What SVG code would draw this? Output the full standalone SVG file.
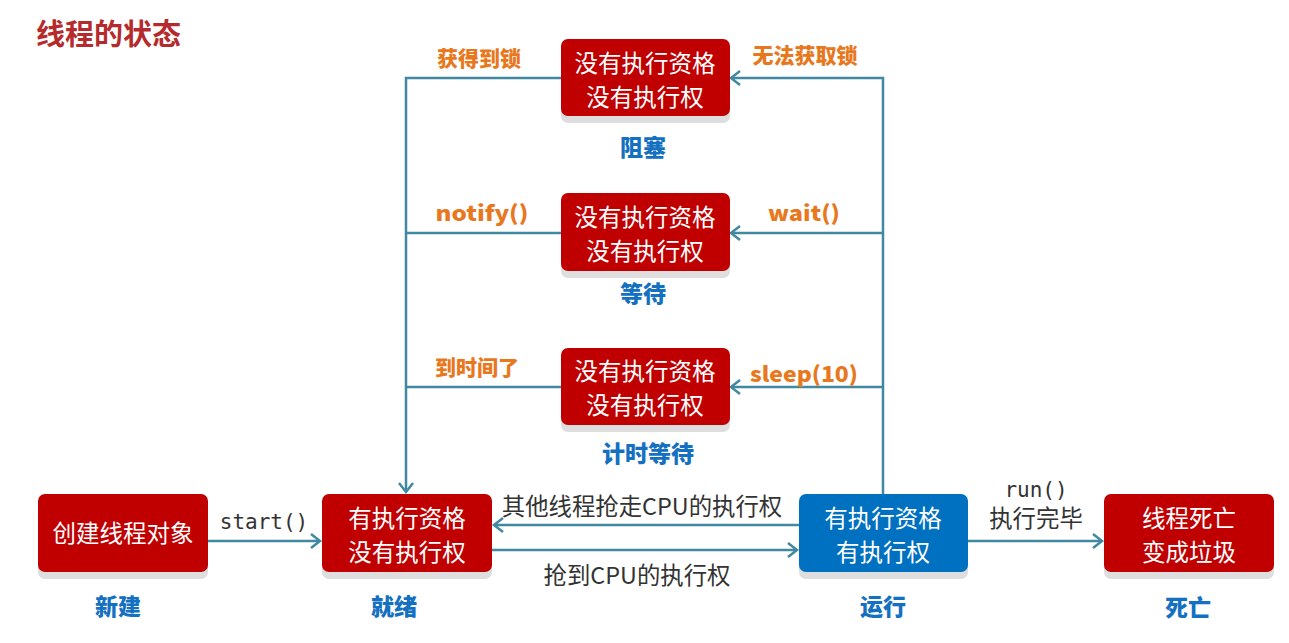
<svg xmlns="http://www.w3.org/2000/svg" width="1289" height="643" viewBox="0 0 1289 643">
<defs>
<style>
.box{fill:#c00000}
.run{fill:#0070c0}
.sh{fill:#dedede}
.bt{font-family:"Noto Sans CJK SC","Noto Sans",sans-serif;font-size:23.5px;fill:#ffffff;text-anchor:middle;dominant-baseline:central}
.st{font-family:"Noto Sans CJK SC","Noto Sans",sans-serif;font-size:23px;font-weight:900;fill:#1470c0;text-anchor:middle;dominant-baseline:central}
.ol{font-family:"Noto Sans CJK SC","Noto Sans",sans-serif;font-size:21px;font-weight:900;fill:#e8781e;text-anchor:middle;dominant-baseline:central}
.gl{font-family:"Noto Sans CJK SC","Noto Sans",sans-serif;font-size:23.4px;fill:#333333;text-anchor:middle;dominant-baseline:central}
.mono{font-family:"DejaVu Sans Mono","Liberation Mono",monospace;font-size:21px;fill:#333333;text-anchor:middle;dominant-baseline:central}
.ln{fill:none;stroke:#4189a0;stroke-width:2.5}
</style>
<marker id="arr" markerUnits="userSpaceOnUse" markerWidth="16" markerHeight="16" refX="12" refY="8" orient="auto">
<path d="M3,1 L12,8 L3,15" fill="none" stroke="#4189a0" stroke-width="2.5"/>
</marker>
</defs>
<rect width="1289" height="643" fill="#ffffff"/>
<text x="36" y="32" font-family="Noto Sans CJK SC,sans-serif" font-size="29" font-weight="bold" fill="#b52a2c" dominant-baseline="central">线程的状态</text>

<g id="connectors">
<path class="ln" d="M208,541 H320" marker-end="url(#arr)"/>
<path class="ln" d="M492,550 H797" marker-end="url(#arr)"/>
<path class="ln" d="M799,525 H494" marker-end="url(#arr)"/>
<path class="ln" d="M968,541 H1102" marker-end="url(#arr)"/>
<path class="ln" d="M883,494 V78 H731" marker-end="url(#arr)"/>
<path class="ln" d="M883,233 H731" marker-end="url(#arr)"/>
<path class="ln" d="M883,387 H731" marker-end="url(#arr)"/>
<path class="ln" d="M561,78 H406 V492" marker-end="url(#arr)"/>
<path class="ln" d="M561,233 H406"/>
<path class="ln" d="M561,387 H406"/>
<text class="mono" x="264" y="522">start()</text>
<text class="gl" x="642" y="505">其他线程抢走CPU的执行权</text>
<text class="gl" x="637" y="574">抢到CPU的执行权</text>
<text class="mono" x="1036" y="490">run()</text>
<text class="gl" x="1036" y="517">执行完毕</text>
<text class="ol" x="479" y="57">获得到锁</text>
<text class="ol" x="805" y="54">无法获取锁</text>
<text class="ol" x="482" y="212" textLength="93" lengthAdjust="spacingAndGlyphs">notify()</text>
<text class="ol" x="804" y="212" textLength="72" lengthAdjust="spacingAndGlyphs">wait()</text>
<text class="ol" x="477" y="366">到时间了</text>
<text class="ol" x="804" y="373" textLength="108" lengthAdjust="spacingAndGlyphs">sleep(10)</text>
</g>

<g id="blocked">
<rect class="sh" x="561" y="46" width="169" height="77" rx="7"/>
<rect class="box" x="561" y="39" width="169" height="77" rx="7"/>
<text class="bt" x="645" y="62">没有执行资格</text>
<text class="bt" x="645" y="96">没有执行权</text>
<text class="st" x="643" y="146">阻塞</text>
</g>

<g id="waiting">
<rect class="sh" x="561" y="200" width="169" height="78" rx="7"/>
<rect class="box" x="561" y="193" width="169" height="78" rx="7"/>
<text class="bt" x="645" y="216">没有执行资格</text>
<text class="bt" x="645" y="250">没有执行权</text>
<text class="st" x="643" y="292">等待</text>
</g>

<g id="timed-waiting">
<rect class="sh" x="561" y="355" width="169" height="77" rx="7"/>
<rect class="box" x="561" y="348" width="169" height="77" rx="7"/>
<text class="bt" x="645" y="370">没有执行资格</text>
<text class="bt" x="645" y="404">没有执行权</text>
<text class="st" x="648" y="452">计时等待</text>
</g>

<g id="new">
<rect class="sh" x="38" y="501" width="170" height="78" rx="7"/>
<rect class="box" x="38" y="494" width="170" height="78" rx="7"/>
<text class="bt" x="123" y="532">创建线程对象</text>
<text class="st" x="118" y="605">新建</text>
</g>

<g id="ready">
<rect class="sh" x="322" y="501" width="170" height="78" rx="7"/>
<rect class="box" x="322" y="494" width="170" height="78" rx="7"/>
<text class="bt" x="407" y="517">有执行资格</text>
<text class="bt" x="407" y="551">没有执行权</text>
<text class="st" x="394" y="605">就绪</text>
</g>

<g id="running">
<rect class="sh" x="799" y="501" width="169" height="78" rx="7"/>
<rect class="run" x="799" y="494" width="169" height="78" rx="7"/>
<text class="bt" x="883" y="517">有执行资格</text>
<text class="bt" x="883" y="551">有执行权</text>
<text class="st" x="883" y="605">运行</text>
</g>

<g id="dead">
<rect class="sh" x="1104" y="501" width="170" height="78" rx="7"/>
<rect class="box" x="1104" y="494" width="170" height="78" rx="7"/>
<text class="bt" x="1189" y="517">线程死亡</text>
<text class="bt" x="1189" y="551">变成垃圾</text>
<text class="st" x="1188" y="606">死亡</text>
</g>
</svg>
